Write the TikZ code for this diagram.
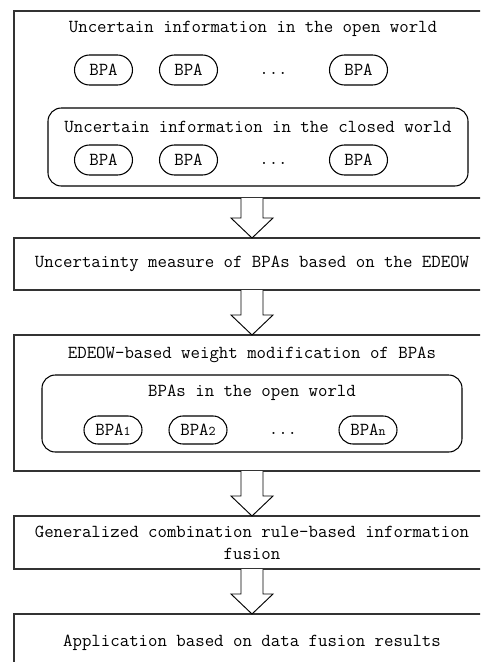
\documentclass[tikz,border=0pt]{standalone}
\usetikzlibrary{positioning,calc,shapes}

\newcommand{\bpaidx}[1]{{\fontsize{10}{10}\selectfont #1}}

\begin{document}
\begin{tikzpicture}[x=0.75pt,y=-0.75pt,node distance=63.75pt,line width=0.8pt,
    font=\ttfamily\fontsize{13.75}{16.5}\selectfont,
    box/.style={draw=black!80,minimum width=357pt,inner sep=0pt,outer sep=0pt},
    group/.style={draw,rounded corners=10pt,minimum width=315pt,inner sep=0pt},
    bpa/.style={draw,rounded rectangle,minimum width=43.5pt,minimum height=22.5pt,inner sep=0pt},
    fat/.style={draw,line width=0.7pt,fill=white}]

  \clip (0,0) rectangle (480,662);

  \node[box,minimum height=140.25pt] (1) at (252,104.5) {};
  \node (t1) at (253,29) {Uncertain information in the open world};
  \node[bpa] (a1) at (103.5,70) {BPA};
  \node[bpa] (a2) [right of=a1] {BPA};
  \node (a3) [right of=a2] {\strut...};
  \node[bpa] (a4) [right of=a3] {BPA};

  \node[group,minimum height=58.5pt] (g1) at (258,147) {};
  \node (t2) at (258,127) {Uncertain information in the closed world};
  \node[bpa] (c1) at (103.5,160) {BPA};
  \node[bpa] (c2) [right of=c1] {BPA};
  \node (c3) [right of=c2] {\strut...};
  \node[bpa] (c4) [right of=c3] {BPA};

  \node[box,minimum height=39pt] (2) at (252,264) {Uncertainty measure of BPAs based on the EDEOW};

  \node[box,minimum height=102pt] (3) at (252,403) {};
  \node (t3) at (252,355) {EDEOW-based weight modification of BPAs};
  \node[group,minimum height=57.75pt] (g2) at (252,413.5) {};
  \node (t4) at (252,393) {BPAs in the open world};
  \node[bpa,minimum height=21pt] (p1) at (113,430) {BPA\bpaidx{1}};
  \node[bpa,minimum height=21pt] (p2) [right of=p1] {BPA\bpaidx{2}};
  \node (p3) [right of=p2] {\strut...};
  \node[bpa,minimum height=21pt] (p4) [right of=p3] {BPA\bpaidx{n}};

  \node[box,minimum height=39.75pt,align=center] (4) at (252,542.5)
    {Generalized combination rule-based information\\fusion};
  \node[box,minimum height=43.5pt] (5) at (252,643) {Application based on data fusion results};

  % hollow block arrows between the stages
  \foreach \a/\b in {1/2,2/3,3/4,4/5}
    \draw[fat] ($(\a.south)+(-11,0)$) -- ($(\b.north)+(-11,-20)$) -- ++(-10,0) -- (\b.north)
      -- ($(\b.north)+(21,-20)$) -- ++(-10,0) -- ($(\a.south)+(11,0)$);

\end{tikzpicture}
\end{document}
